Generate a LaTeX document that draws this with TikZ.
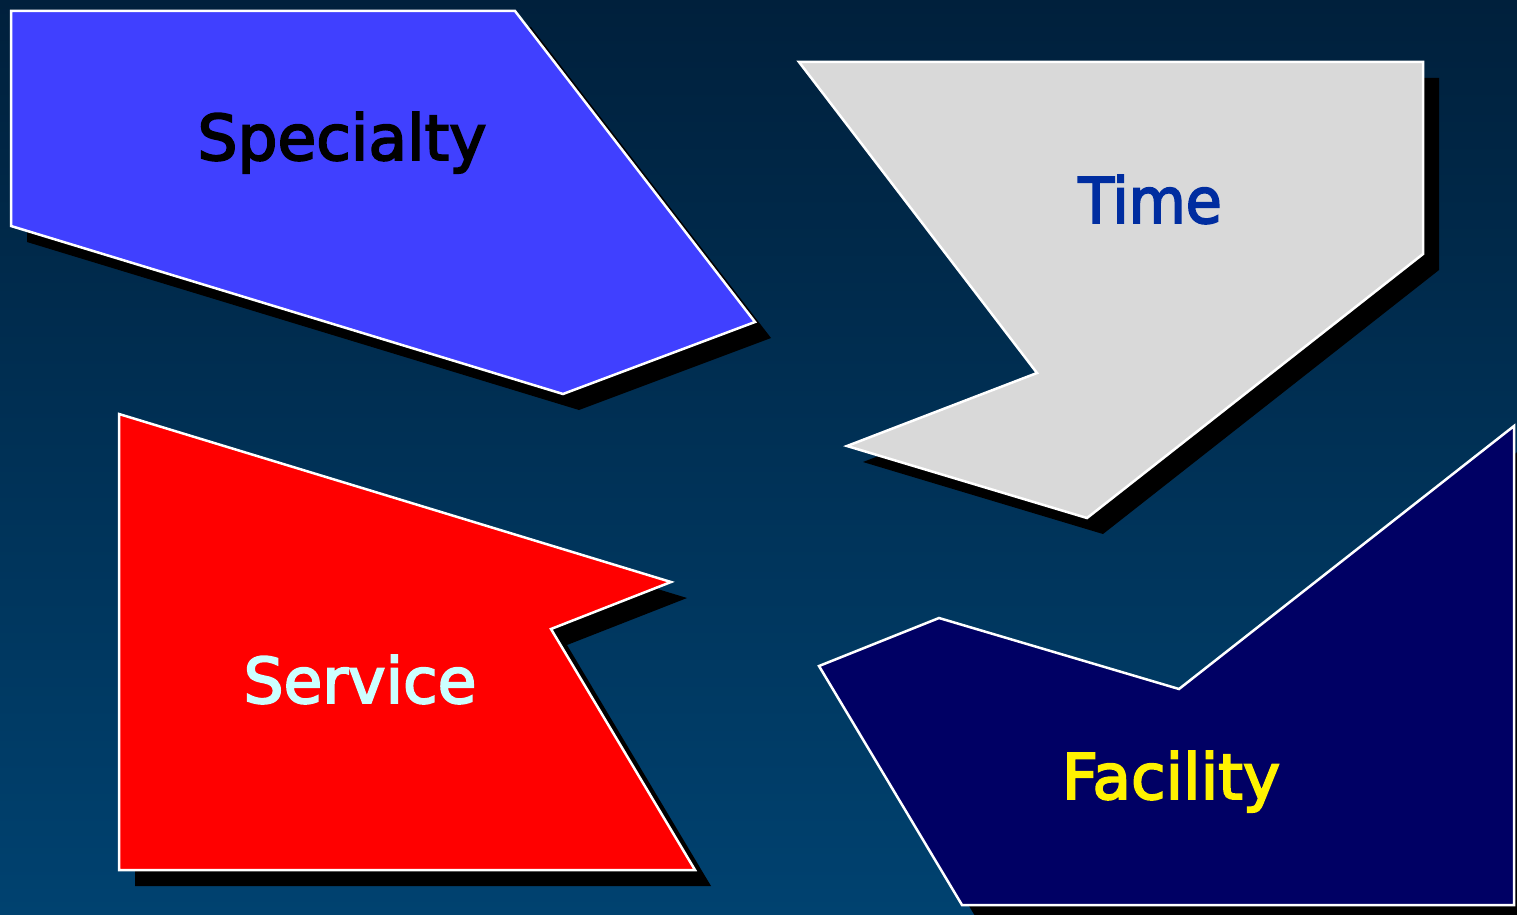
\documentclass[tikz,border=0pt]{standalone}
\usepackage{fontspec}
\setmainfont{DejaVu Sans}
\newfontfamily\labelfont[FakeBold=3]{DejaVu Sans}
\definecolor{bgtop}{RGB}{0,32,60}
\definecolor{bgbottom}{RGB}{0,66,112}
\definecolor{specblue}{RGB}{64,64,255}
\definecolor{timegray}{RGB}{217,217,217}
\definecolor{timeblue}{RGB}{0,45,160}
\definecolor{facnavy}{RGB}{0,0,100}
\definecolor{servcyan}{RGB}{204,255,255}

\begin{document}
\begin{tikzpicture}[x=1pt,y=-1pt,
  piece/.style={draw=white,line width=2.5pt},
  shadow/.style={fill=black,shift={(16,16)}},
  word/.style={font=\labelfont\fontsize{63}{70}\selectfont,anchor=base,inner sep=0pt}]
\clip (0,0) rectangle (1517,915);
\shade[top color=bgtop,bottom color=bgbottom] (0,0) rectangle (1517,915);
% Specialty
\fill[shadow] (11,11)--(515,11)--(755,322)--(563,394)--(11,226)--cycle;
\filldraw[piece,fill=specblue] (11,11)--(515,11)--(755,322)--(563,394)--(11,226)--cycle;
\node[word,text=black] (specialty) at (342,160) {Specialty};
% Time
\fill[shadow] (799,62)--(1423,62)--(1423,254)--(1087,518)--(847,446)--(1037,373)--cycle;
\filldraw[piece,fill=timegray] (799,62)--(1423,62)--(1423,254)--(1087,518)--(847,446)--(1037,373)--cycle;
\node[word,text=timeblue,xscale=.93] (time) at (1150,223) {Time};
% Service
\fill[shadow] (119,414)--(671,582)--(551,629)--(695,870)--(119,870)--cycle;
\filldraw[piece,fill=red] (119,414)--(671,582)--(551,629)--(695,870)--(119,870)--cycle;
\node[word,text=servcyan] (service) at (360,703) {Service};
% Facility
\fill[shadow] (819,666)--(939,618)--(1179,689)--(1514,426)--(1514,905)--(962,905)--cycle;
\filldraw[piece,fill=facnavy] (819,666)--(939,618)--(1179,689)--(1514,426)--(1514,905)--(962,905)--cycle;
\node[word,text=yellow] (facility) at (1171,799) {Facility};
\end{tikzpicture}
\end{document}
